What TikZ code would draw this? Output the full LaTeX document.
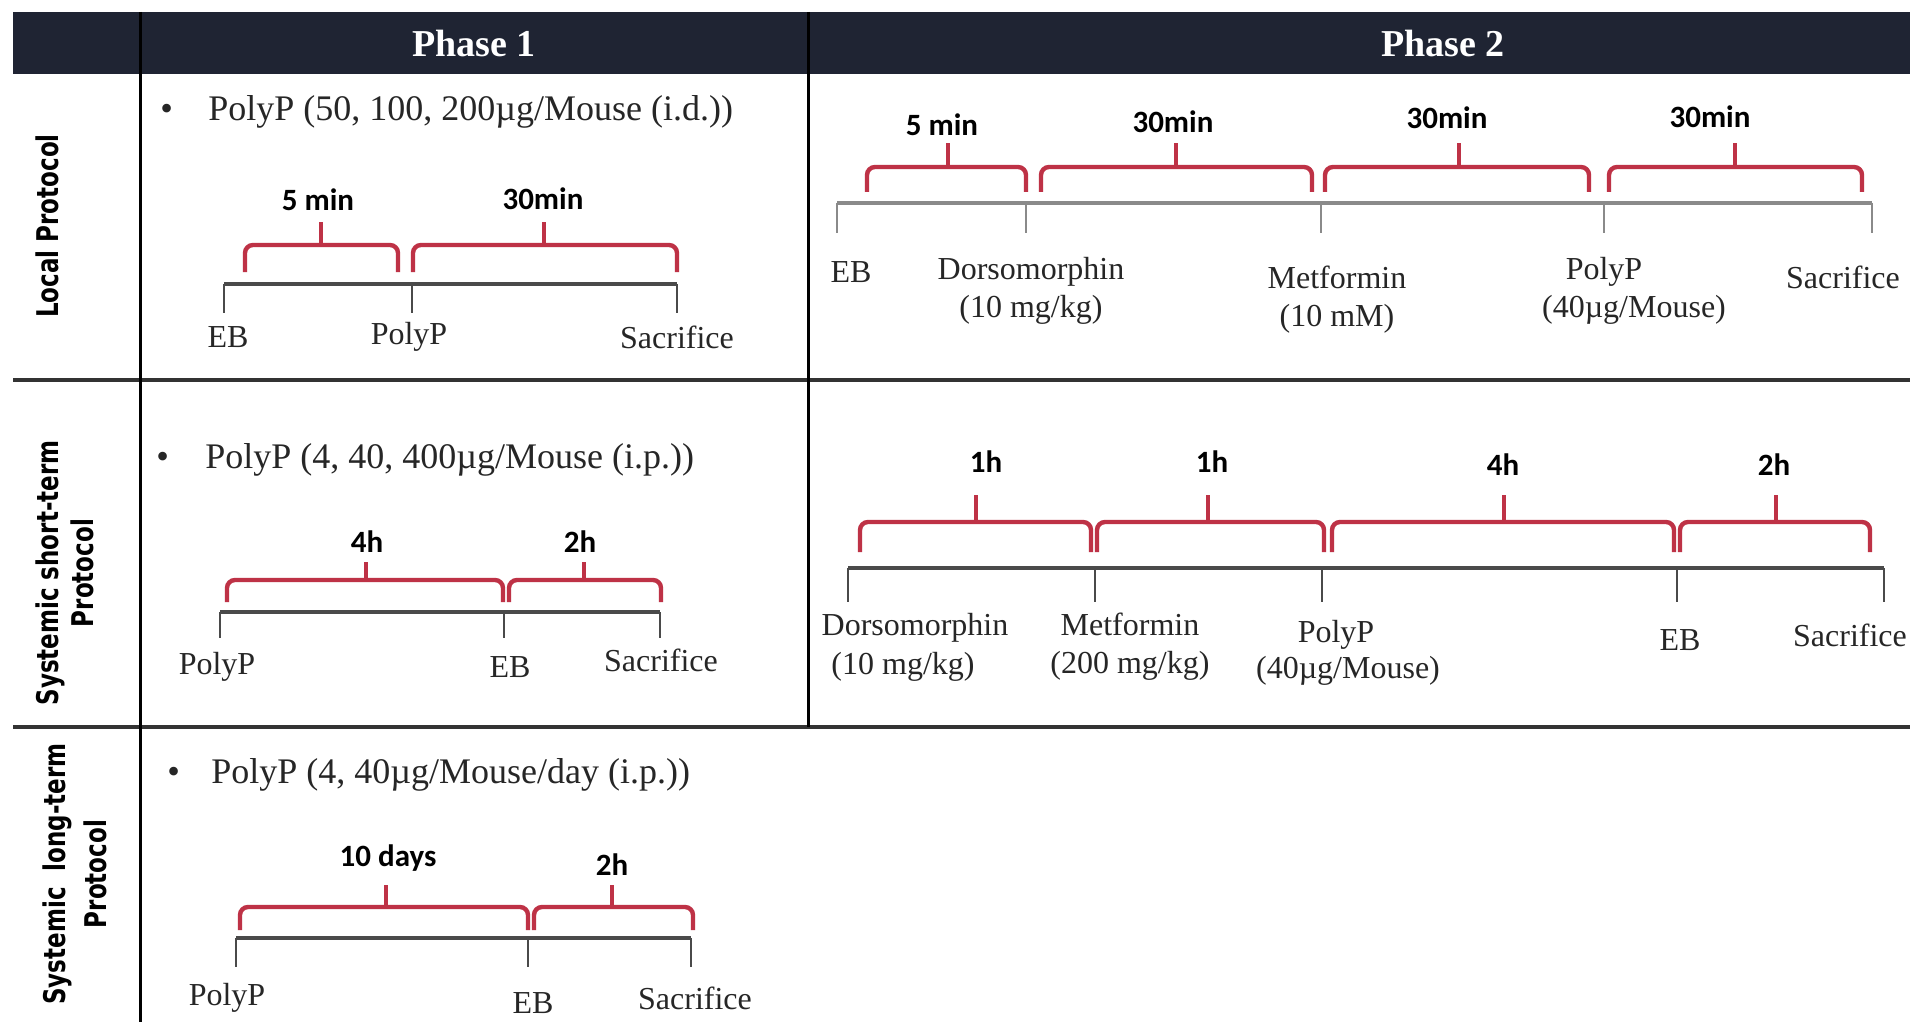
\documentclass[tikz,border=0pt]{standalone}
\usepackage{fontspec}
\setmainfont{Liberation Serif}
\newfontfamily\durfont[BoldFont={* Bold}]{Carlito}
\newfontfamily\rowfont{DejaVu Sans}
\definecolor{navy}{HTML}{1F2433}
\definecolor{brkred}{HTML}{BE3246}
\definecolor{tlgray}{HTML}{4A4A4A}
\definecolor{tllight}{HTML}{8A8A8A}
\definecolor{rulegray}{HTML}{333333}
\newcommand\mybrace[6]{% x1,x2,xm,ytop,ybot,ytick
  \draw[brkline,rounded corners=4pt] (#1,#5) -- (#1,#4) -- (#2,#4) -- (#2,#5);
  \draw[brkline] (#3,#4) -- (#3,#6);}
\newcommand\rowtext[2]{\scalebox{1}[1.3]{\fontsize{11.5}{#1}\selectfont\begin{tabular}{@{}c@{}}#2\end{tabular}}}
\begin{document}
\begin{tikzpicture}[x=0.5pt,y=-0.5pt,
  brkline/.style={draw=brkred,line width=2.2pt},
  tlmain/.style={draw=tlgray,line width=2pt},
  tltick/.style={draw=tlgray,line width=1.2pt},
  tlmainl/.style={draw=tllight,line width=1.6pt},
  tltickl/.style={draw=tllight,line width=1pt},
  dur/.style={font=\durfont\bfseries\fontsize{15.5}{18}\selectfont,inner sep=0pt,text=black},
  lbl/.style={font=\fontsize{16}{19}\selectfont,inner sep=0pt,text=black!85,align=center},
  bul/.style={font=\fontsize{18}{21}\selectfont,inner sep=0pt,anchor=west,text=black!85},
  rowlbl/.style={font=\rowfont\bfseries,rotate=90,inner sep=0pt},
  hdr/.style={font=\bfseries\fontsize{19}{22}\selectfont,text=white,inner sep=0pt}]
\useasboundingbox (0,0) rectangle (1913,1022);
\fill[white] (0,0) rectangle (1913,1022);
% header
\fill[navy] (13,12) rectangle (1910,74);
\node[hdr] (ph1) at (474,44) {Phase 1};
\node[hdr] (ph2) at (1443,44) {Phase 2};
% table rules
\draw[rulegray,line width=2pt] (13,380) -- (1910,380);
\draw[rulegray,line width=2pt] (13,727) -- (1910,727);
\draw[black,line width=1.5pt] (140,12) -- (140,1022);
\draw[black,line width=1.5pt] (808,12) -- (808,727);
% row labels
\node[rowlbl] (r1) at (51,226) {\rowtext{14}{Local Protocol}};
\node[rowlbl] (r2) at (69,573) {\rowtext{13.5}{Systemic short-term\\Protocol}};
\node[rowlbl] (r3) at (78,874) {\rowtext{15.5}{Systemic\ \ long-term\\Protocol}};

% ===== Row 1, Phase 1 =====
\node[bul] (b1) at (160,112) {•};
\node[bul] (t1) at (208,112) {PolyP (50, 100, 200µg/Mouse (i.d.))};
\mybrace{245}{398}{321}{245}{272}{222}
\mybrace{413}{677}{544}{245}{272}{222}
\node[dur] (d11) at (318,200) {5 min};
\node[dur] (d12) at (543,199) {30min};
\draw[tlmain] (224,284) -- (677,284);
\foreach \x in {224,412,677} \draw[tltick] (\x,284) -- (\x,313);
\node[lbl] (l11) at (228,337) {EB};
\node[lbl] (l12) at (409,337) {PolyP};
\node[lbl] (l13) at (677,337) {Sacrifice};

% ===== Row 1, Phase 2 =====
\mybrace{867}{1026}{948}{167}{192}{143}
\mybrace{1041}{1312}{1176}{167}{192}{143}
\mybrace{1325}{1589}{1459}{167}{192}{143}
\mybrace{1609}{1862}{1735}{167}{192}{143}
\node[dur] (d21) at (942,125) {5 min};
\node[dur] (d22) at (1173,122) {30min};
\node[dur] (d23) at (1447,118) {30min};
\node[dur] (d24) at (1710,117) {30min};
\draw[tlmainl] (837,203) -- (1872,203);
\foreach \x in {837,1026,1321,1604,1872} \draw[tltickl] (\x,203) -- (\x,233);
\node[lbl] (l21) at (851,272) {EB};
\node[lbl] (l22) at (1031,291) {Dorsomorphin\\(10 mg/kg)};
\node[lbl] (l23) at (1337,300) {Metformin\\(10 mM)};
\node[lbl] (l24a) at (1604,272) {PolyP};
\node[lbl] (l24b) at (1634,310) {(40µg/Mouse)};
\node[lbl] (l25) at (1843,277) {Sacrifice};

% ===== Row 2, Phase 1 =====
\node[bul] (b2) at (156,460) {•};
\node[bul] (t2) at (205,460) {PolyP (4, 40, 400µg/Mouse (i.p.))};
\mybrace{227}{503}{366}{580}{602}{562}
\mybrace{509}{661}{584}{580}{602}{562}
\node[dur] (d31) at (367,542) {4h};
\node[dur] (d32) at (580,542) {2h};
\draw[tlmain] (220,612) -- (660,612);
\foreach \x in {220,504,660} \draw[tltick] (\x,612) -- (\x,638);
\node[lbl] (l31) at (217,667) {PolyP};
\node[lbl] (l32) at (510,667) {EB};
\node[lbl] (l33) at (661,660) {Sacrifice};

% ===== Row 2, Phase 2 =====
\mybrace{860}{1091}{976}{522}{552}{495}
\mybrace{1097}{1324}{1208}{522}{552}{495}
\mybrace{1332}{1674}{1504}{522}{552}{495}
\mybrace{1680}{1870}{1776}{522}{552}{495}
\node[dur] (d41) at (986,462) {1h};
\node[dur] (d42) at (1212,462) {1h};
\node[dur] (d43) at (1503,465) {4h};
\node[dur] (d44) at (1774,465) {2h};
\draw[tlmain] (848,568) -- (1884,568);
\foreach \x in {848,1095,1322,1677,1884} \draw[tltick] (\x,568) -- (\x,602);
\node[lbl] (l41a) at (915,628) {Dorsomorphin};
\node[lbl] (l41b) at (903,667) {(10 mg/kg)};
\node[lbl] (l42) at (1130,647) {Metformin\\(200 mg/kg)};
\node[lbl] (l43a) at (1336,635) {PolyP};
\node[lbl] (l43b) at (1348,671) {(40µg/Mouse)};
\node[lbl] (l44) at (1680,640) {EB};
\node[lbl] (l45) at (1850,635) {Sacrifice};

% ===== Row 3, Phase 1 =====
\node[bul] (b3) at (167,775) {•};
\node[bul] (t3) at (211,775) {PolyP (4, 40µg/Mouse/day (i.p.))};
\mybrace{240}{528}{386}{907}{930}{885}
\mybrace{534}{693}{612}{907}{930}{885}
\node[dur] (d51) at (388,858) {10 days};
\node[dur] (d52) at (612,865) {2h};
\draw[tlmain] (236,938) -- (691,938);
\foreach \x in {236,528,691} \draw[tltick] (\x,938) -- (\x,967);
\node[lbl] (l51) at (227,998) {PolyP};
\node[lbl] (l52) at (533,1003) {EB};
\node[lbl] (l53) at (695,998) {Sacrifice};
\end{tikzpicture}
\end{document}
